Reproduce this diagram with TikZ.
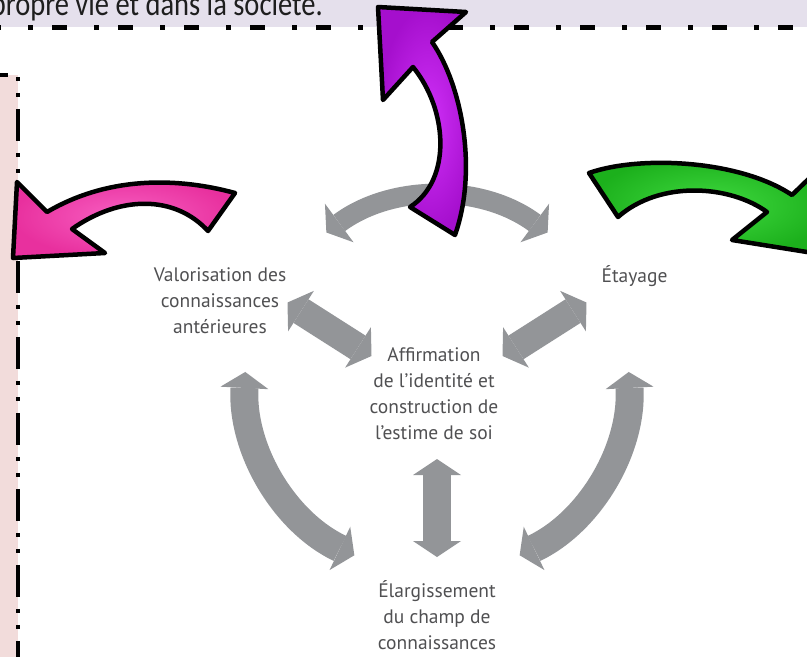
\documentclass[tikz,border=0pt]{standalone}
\usepackage{fontspec}
\usetikzlibrary{arrows.meta}
\newfontfamily\diagfont{PT Sans}
\newfontfamily\bandfont{Carlito}
\definecolor{bandlilac}{RGB}{229,224,236}
\definecolor{panelpink}{RGB}{242,220,219}
\definecolor{arrowgray}{RGB}{147,149,152}
\definecolor{labelgray}{RGB}{80,80,82}
\definecolor{pinkdark}{RGB}{232,48,158}
\definecolor{pinklight}{RGB}{248,96,194}
\definecolor{purpledark}{RGB}{165,15,205}
\definecolor{purplelight}{RGB}{208,48,248}
\definecolor{greendark}{RGB}{28,176,28}
\definecolor{greenlight}{RGB}{64,218,64}
\tikzset{
  grayarrow/.style={draw=arrowgray, line width=28pt, >={Triangle[length=16pt,width=48pt,line width=0pt]}, <->},
  cyclelabel/.style={font=\diagfont\fontsize{19.5}{26}\selectfont, text=labelgray, align=center, inner sep=0pt},
  clipart/.style={draw=black, line width=4.5pt, line join=round},
}
\begin{document}
\begin{tikzpicture}[x=1pt,y=1pt,yscale=-1,xscale=1]
\path[use as bounding box] (0,0) rectangle (807,657);
\clip (0,0) rectangle (807,657);

%Shape: Rectangle [band]
\fill [bandlilac] (0,0) rectangle (807,27);
\draw [line width=5pt, dash pattern=on 15pt off 27pt on 5pt off 19pt, dash phase=14pt] (0,27) -- (807,27);
%Shape: Rectangle [panel]
\fill [panelpink] (0,75) rectangle (18,657);
\draw [line width=4pt] (0,75) -- (8,75);
\draw [line width=4pt, dash pattern=on 32pt off 12pt on 4pt off 12pt on 4pt off 12pt, dash phase=43pt] (18,76) -- (18,657);

% Text Node
\node (societe) [anchor=base east, inner sep=0pt, text={rgb,255:red,30;green,30;blue,30}, font=\bandfont\fontsize{28.5}{30}\selectfont] at (323,15.5) {\scalebox{1}[1.2]{propre vie et dans la société.}};

% Text Node
\node (valor) [cyclelabel, anchor=base] at (220,333) {Valorisation des\\connaissances\\antérieures};
% Text Node
\node (etayage) [cyclelabel, anchor=base] at (634.5,282) {Étayage};
% Text Node
\node (affirm) [cyclelabel, anchor=base] at (434,439) {Affirmation\\de l’identité et\\construction de\\l’estime de soi};
% Text Node
\node (elarg) [cyclelabel, anchor=base] at (437,649) {Élargissement\\du champ de\\connaissances};

\coordinate (hub) at (437,382);
\coordinate (ul1) at (287.5,302.5); \coordinate (ul2) at (371.5,356);
\coordinate (ur1) at (586.5,302.5); \coordinate (ur2) at (502.5,356);
\coordinate (vt1) at (437,459); \coordinate (vt2) at (437,557);

%Straight Lines
\draw [grayarrow] (ul1) -- (ul2);
\draw [grayarrow] (ur1) -- (ur2);
\draw [grayarrow] (vt1) -- (vt2);
%Curve Lines
\draw [grayarrow, line width=20pt] (hub) ++(233.5:186) arc [start angle=233.5, end angle=306.5, radius=186];
\draw [grayarrow] (hub) ++(183:192) arc [start angle=183, end angle=115.5, radius=192];
\draw [grayarrow] (hub) ++(-3:192) arc [start angle=-3, end angle=64.5, radius=192];

%Shape: Pink arrow
\shadedraw [clipart, inner color=pinklight, outer color=pinkdark] (235,193) .. controls (180,178) and (110,175) .. (47,212) -- (17,182) -- (13,258) -- (105,253) -- (72,229) .. controls (120,195) and (175,195) .. (208,231) -- cycle;
%Shape: Purple arrow
\shadedraw [clipart, inner color=purplelight, outer color=purpledark] (378,7) -- (466,12) -- (432,42) .. controls (462,85) and (478,170) .. (455,235) -- (410,207) .. controls (452,180) and (448,110) .. (413,67) -- (383,100) -- cycle;
%Shape: Green arrow
\shadedraw [clipart, inner color=greenlight, outer color=greendark] (589,173) .. controls (640,155) and (740,160) .. (792,195) -- (824,164) -- (832,256) -- (732,240) -- (767,212) .. controls (730,185) and (660,180) .. (618,217) -- cycle;

\end{tikzpicture}
\end{document}
